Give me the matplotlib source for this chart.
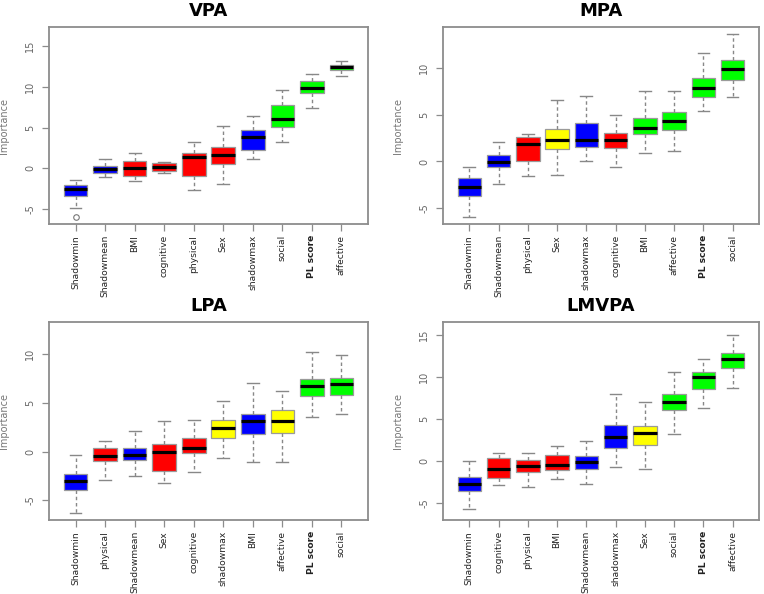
import matplotlib
matplotlib.use("Agg")
import matplotlib.pyplot as plt

# ---- data (box stats per panel) ----
vpa_labels = ["Shadowmin", "Shadowmean", "BMI", "cognitive", "physical", "Sex",
              "shadowmax", "social", "PL score", "affective"]
vpa_colors = ["blue", "blue", "red", "red", "red", "red", "blue", "lime", "lime", "lime"]
vpa_whislo = [-4.8, -1.0, -1.6, -0.6, -2.6, -1.9, 1.2, 3.2, 7.4, 11.3]
vpa_q1 = [-3.4, -0.5, -0.9, -0.3, -0.9, 0.5, 2.3, 5.1, 9.2, 12.0]
vpa_med = [-2.5, -0.1, 0.1, 0.2, 1.4, 1.7, 3.9, 6.1, 9.9, 12.4]
vpa_q3 = [-2.0, 0.3, 0.9, 0.7, 1.9, 2.6, 4.7, 7.7, 10.7, 12.7]
vpa_whishi = [-1.4, 1.2, 1.9, 0.8, 3.2, 5.2, 6.4, 9.6, 11.5, 13.2]
vpa_fliers = [[-5.9], [], [], [], [], [], [], [], [], []]

mpa_labels = ["Shadowmin", "Shadowmean", "physical", "Sex", "shadowmax", "cognitive",
              "BMI", "affective", "PL score", "social"]
mpa_colors = ["blue", "blue", "red", "yellow", "blue", "red", "lime", "lime", "lime", "lime"]
mpa_whislo = [-5.9, -2.4, -1.6, -1.5, 0.0, -0.6, 0.9, 1.1, 5.4, 6.9]
mpa_q1 = [-3.75, -0.6, 0.0, 1.3, 1.5, 1.4, 2.9, 3.4, 6.9, 8.75]
mpa_med = [-2.75, -0.1, 1.9, 2.3, 2.25, 2.3, 3.6, 4.3, 7.9, 9.9]
mpa_q3 = [-1.8, 0.7, 2.6, 3.5, 4.1, 3.0, 4.7, 5.3, 8.9, 10.9]
mpa_whishi = [-0.6, 2.1, 2.9, 6.6, 7.0, 5.0, 7.6, 7.5, 11.6, 13.6]

lpa_labels = ["Shadowmin", "physical", "Shadowmean", "Sex", "cognitive", "shadowmax",
              "BMI", "affective", "PL score", "social"]
lpa_colors = ["blue", "red", "blue", "red", "red", "yellow", "blue", "yellow", "lime", "lime"]
lpa_whislo = [-6.3, -2.85, -2.5, -3.25, -2.1, -0.6, -1.1, -1.05, 3.6, 3.85]
lpa_q1 = [-3.95, -1.0, -0.8, -2.0, -0.1, 1.45, 1.8, 1.95, 5.7, 5.8]
lpa_med = [-3.05, -0.4, -0.3, 0.0, 0.4, 2.45, 3.1, 3.2, 6.7, 6.9]
lpa_q3 = [-2.3, 0.4, 0.4, 0.75, 1.45, 3.3, 3.85, 4.3, 7.5, 7.55]
lpa_whishi = [-0.3, 1.1, 2.1, 3.2, 3.3, 5.2, 7.0, 6.2, 10.2, 9.9]

lmvpa_labels = ["Shadowmin", "cognitive", "physical", "BMI", "Shadowmean", "shadowmax",
                "Sex", "social", "PL score", "affective"]
lmvpa_colors = ["blue", "red", "red", "red", "blue", "blue", "yellow", "lime", "lime", "lime"]
lmvpa_whislo = [-5.7, -2.9, -3.1, -2.1, -2.75, -0.7, -1.0, 3.2, 6.3, 8.7]
lmvpa_q1 = [-3.5, -2.0, -1.3, -1.1, -0.9, 1.6, 1.9, 6.0, 8.55, 11.1]
lmvpa_med = [-2.7, -1.0, -0.65, -0.5, -0.1, 2.85, 3.3, 7.0, 9.95, 12.1]
lmvpa_q3 = [-1.9, 0.35, 0.15, 0.75, 0.55, 4.3, 4.15, 7.9, 10.6, 12.8]
lmvpa_whishi = [0.0, 1.0, 0.9, 1.8, 2.4, 7.9, 7.0, 10.6, 12.1, 14.9]

plt.rcParams["font.family"] = ["DejaVu Sans"]

fig = plt.figure(figsize=(7.64, 5.94), dpi=100)

panels = [
    ("VPA", [0.0641, 0.6229, 0.4176, 0.3316], (-6.8, 17.3), [-5, 0, 5, 10, 15],
     vpa_labels, vpa_colors, vpa_whislo, vpa_q1, vpa_med, vpa_q3, vpa_whishi, vpa_fliers),
    ("MPA", [0.5798, 0.6229, 0.4136, 0.3316], (-6.7, 14.4), [-5, 0, 5, 10],
     mpa_labels, mpa_colors, mpa_whislo, mpa_q1, mpa_med, mpa_q3, mpa_whishi, None),
    ("LPA", [0.0641, 0.1246, 0.4176, 0.3333], (-7.0, 13.3), [-5, 0, 5, 10],
     lpa_labels, lpa_colors, lpa_whislo, lpa_q1, lpa_med, lpa_q3, lpa_whishi, None),
    ("LMVPA", [0.5798, 0.1246, 0.4136, 0.3333], (-7.0, 16.5), [-5, 0, 5, 10, 15],
     lmvpa_labels, lmvpa_colors, lmvpa_whislo, lmvpa_q1, lmvpa_med, lmvpa_q3, lmvpa_whishi, None),
]

frame_col = "#8c8c8c"
for (title, rect, ylim, yticks, labels, colors, wlo, q1, med, q3, whi, fl) in panels:
    ax = fig.add_axes(rect)
    stats = []
    for i in range(len(labels)):
        stats.append({
            "label": labels[i], "whislo": wlo[i], "q1": q1[i], "med": med[i],
            "q3": q3[i], "whishi": whi[i], "fliers": fl[i] if fl else [],
        })
    bp = ax.bxp(stats, positions=range(1, len(labels) + 1), widths=0.8,
                patch_artist=True, showfliers=True,
                boxprops=dict(edgecolor="#9a9a9a", linewidth=0.9),
                medianprops=dict(color="black", linewidth=2.3, solid_capstyle="butt"),
                whiskerprops=dict(color="#888888", linewidth=1.0, linestyle=(0, (2.5, 2))),
                capprops=dict(color="#888888", linewidth=1.0),
                flierprops=dict(marker="o", markersize=4, markerfacecolor="none",
                                markeredgecolor="#777777", markeredgewidth=0.8))
    for patch, c in zip(bp["boxes"], colors):
        patch.set_facecolor(c)
    for cap in bp["caps"]:
        x0, x1 = cap.get_xdata()
        m = (x0 + x1) / 2
        cap.set_xdata([m - 0.2, m + 0.2])

    ax.set_xlim(0.1, len(labels) + 0.9)
    ax.set_ylim(*ylim)
    ax.set_yticks(yticks)
    ax.set_yticklabels([str(t) for t in yticks], rotation=90, va="center",
                       fontsize=7, color="#666666")
    ax.set_xticks(range(1, len(labels) + 1))
    ax.set_xticklabels(labels, rotation=90, fontsize=6.6, color="#222222")
    for t in ax.get_xticklabels():
        if t.get_text() == "PL score":
            t.set_fontweight("bold")
    ax.tick_params(axis="both", length=5, width=0.9, color=frame_col, pad=3)
    ax.tick_params(axis="y", pad=5)
    for sp in ax.spines.values():
        sp.set_color(frame_col)
        sp.set_linewidth(1.3)
    ax.set_ylabel("Importance", fontsize=7, color="#777777")
    ax.yaxis.set_label_coords(-0.125, 0.5)
    ax.set_title(title, fontsize=13, fontweight="bold", pad=8)

fig.savefig("out.png", dpi=100)
